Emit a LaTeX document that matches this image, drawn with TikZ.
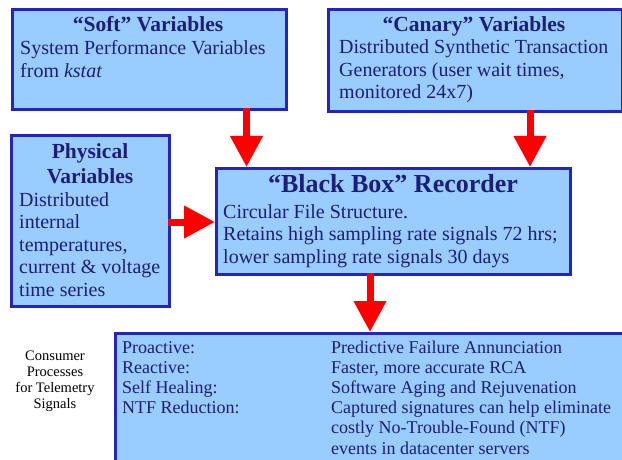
\documentclass[tikz,border=0pt]{standalone}
\usepackage{fontspec}
\setmainfont{Liberation Serif}
\usetikzlibrary{arrows.meta}
\definecolor{boxfill}{HTML}{99CCFF}
\definecolor{boxline}{HTML}{2424C0}
\definecolor{txt}{HTML}{1E1E78}
\definecolor{arr}{HTML}{FF0000}
\tikzset{
  box/.style={draw=boxline, fill=boxfill, line width=3pt, rectangle, inner sep=0pt, anchor=north west},
  hdr/.style={text=txt, font=\fontsize{21.5}{25}\selectfont\bfseries, inner sep=0pt, anchor=base, align=center},
  bighdr/.style={text=txt, font=\fontsize{26}{28}\selectfont\bfseries, inner sep=0pt, anchor=base},
  body/.style={text=txt, font=\fontsize{20}{22.5}\selectfont, inner sep=0pt, anchor=base west, align=left},
  small/.style={text=txt, font=\fontsize{18}{20.2}\selectfont, inner sep=0pt, anchor=base west, align=left},
  note/.style={text=black, font=\fontsize{14.5}{16}\selectfont, inner sep=0pt, anchor=base, align=center},
  flow/.style={draw=arr, line width=7pt, -{Triangle[width=31pt,length=31pt]}, arr}
}
\begin{document}
\begin{tikzpicture}[x=1pt,y=-1pt]
\useasboundingbox (0,0) rectangle (622,460);
% boxes
\node[box, minimum width=274pt, minimum height=100pt] (soft) at (11,8) {};
\node[box, minimum width=294pt, minimum height=102pt] (canary) at (327,8) {};
\node[box, minimum width=158pt, minimum height=171pt] (phys) at (10,134) {};
\node[box, minimum width=354pt, minimum height=106pt] (bb) at (215,167) {};
\node[box, minimum width=512pt, minimum height=134pt] (cons) at (114,332) {};
% arrows
\coordinate (s1) at (246.5,108); \coordinate (s2) at (246.5,167);
\coordinate (c1) at (530,110); \coordinate (c2) at (530,167);
\coordinate (p1) at (168,222); \coordinate (p2) at (215,222);
\coordinate (b1) at (370,273); \coordinate (b2) at (370,332);
\draw[flow] (s1) -- (s2);
\draw[flow] (c1) -- (c2);
\draw[flow] (p1) -- (p2);
\draw[flow] (b1) -- (b2);
% texts (multi-line nodes are anchored at the baseline of their last line)
\node[hdr] (softh) at (148,32) {“Soft” Variables};
\node[body] (softb) at (20,77.5) {System Performance Variables\\from \textit{kstat}};
\node[hdr] (canh) at (474,32) {“Canary” Variables};
\node[body] (canb) at (339,99) {Distributed Synthetic Transaction\\Generators (user wait times,\\monitored 24x7)};
\node[hdr] (physh) at (90,183) {Physical\\Variables};
\node[body] (physb) at (19,296) {Distributed\\internal\\temperatures,\\current \& voltage\\time series};
\node[bighdr] (bbh) at (393,193) {“Black Box” Recorder};
\node[body] (bbb) at (223,263) {Circular File Structure.\\Retains high sampling rate signals 72 hrs;\\lower sampling rate signals 30 days};
\node[small] (consl) at (122,413.6) {Proactive:\\Reactive:\\Self Healing:\\NTF Reduction:};
\node[small] (consr) at (331,454) {Predictive Failure Annunciation\\Faster, more accurate RCA\\Software Aging and Rejuvenation\\Captured signatures can help eliminate\\costly No-Trouble-Found (NTF)\\events in datacenter servers};
\node[note] (note) at (55,408) {Consumer\\Processes\\for Telemetry\\Signals};
\end{tikzpicture}
\end{document}
